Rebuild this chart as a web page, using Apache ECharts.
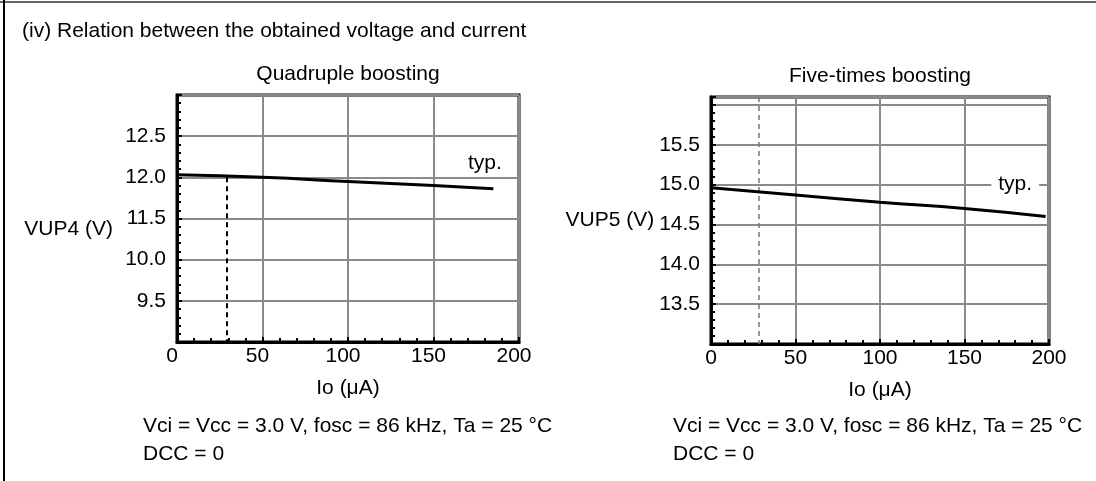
<!DOCTYPE html>
<html>
<head>
<meta charset="utf-8">
<script src="https://cdn.jsdelivr.net/npm/echarts@6/dist/echarts.min.js"></script>
<style>
html,body{margin:0;padding:0;background:#fff;}
#chart{width:1096px;height:481px;}
</style>
</head>
<body>
<div id="chart"></div>
<script>
// ---- data ----
const mainTitle = '(iv) Relation between the obtained voltage and current';
const chartTitles = ['Quadruple boosting', 'Five-times boosting'];
const xAxisName = 'Io (μA)';
const yAxisNames = ['VUP4 (V)', 'VUP5 (V)'];
const noteLines = ['Vci = Vcc = 3.0 V, fosc = 86 kHz, Ta = 25 °C', 'DCC = 0'];
const curveLabel = 'typ.';

// Quadruple boosting (left)
const io4 = [0, 50, 100, 150, 185];
const vup4 = [12.03, 12.0, 11.95, 11.90, 11.86];
const yTickValues4 = [10.5, 11.0, 11.5, 12.0, 12.5];
const yTickLabels4 = ['9.5', '10.0', '11.5', '12.0', '12.5'];
const dashIo4 = 29;

// Five-times boosting (right)
const io5 = [0, 50, 100, 150, 198];
const vup5 = [14.96, 14.87, 14.78, 14.70, 14.60];
const yTickValues5 = [13.5, 14.0, 14.5, 15.0, 15.5];
const yTickLabels5 = ['13.5', '14.0', '14.5', '15.0', '15.5'];
const dashIo5 = 28;

const xTicks = [0, 50, 100, 150, 200];

// ---- chart ----
const FONT = 'Liberation Sans, Arial, sans-serif';
const FS = 21;
const chart = echarts.init(document.getElementById('chart'), null, {renderer: 'canvas'});

function pairs(xs, ys) { return xs.map((x, i) => [x, ys[i]]); }
function mapLabel(vals, labels) {
  return function (v) {
    const i = vals.findIndex(t => Math.abs(t - v) < 1e-6);
    return i >= 0 ? labels[i] : '';
  };
}

function xAxisCfg(gridIndex, padRight) {
  return {
    type: 'value', gridIndex: gridIndex, min: xTicks[0], max: xTicks[xTicks.length - 1], interval: 50,
    name: xAxisName, nameLocation: 'middle', nameGap: 36,
    nameTextStyle: {fontFamily: FONT, fontSize: FS, color: '#000'},
    axisLine: {show: true, lineStyle: {color: '#000', width: 3}},
    axisTick: {show: true, inside: true, length: 5, lineStyle: {color: '#000', width: 2}},
    minorTick: {show: true, splitNumber: 5, length: 4, lineStyle: {color: '#000', width: 2}},
    axisLabel: {fontFamily: FONT, fontSize: FS, color: '#000', margin: 4, padding: [0, padRight, 0, 0]},
    splitLine: {show: true, lineStyle: {color: '#8a8a8a', width: 2}}
  };
}
function yAxisCfg(gridIndex, min, max, vals, labels, name, nameGap, nameVA) {
  return {
    type: 'value', gridIndex: gridIndex, min: min, max: max, interval: 0.5,
    name: name, nameLocation: 'middle', nameGap: nameGap, nameRotate: 0,
    nameTextStyle: {fontFamily: FONT, fontSize: FS, color: '#000', align: 'right', verticalAlign: nameVA},
    axisLine: {show: true, lineStyle: {color: '#000', width: 3}},
    axisTick: {show: true, inside: true, length: 5, lineStyle: {color: '#000', width: 2}},
    minorTick: {show: true, splitNumber: 5, length: 4, lineStyle: {color: '#000', width: 2}},
    axisLabel: {fontFamily: FONT, fontSize: FS, color: '#000', margin: 11, formatter: mapLabel(vals, labels)},
    splitLine: {show: true, lineStyle: {color: '#8a8a8a', width: 2}}
  };
}

const option = {
  backgroundColor: '#fff',
  animation: false,
  grid: [
    {left: 177, width: 342, top: 95, height: 247, show: true, borderColor: '#000', borderWidth: 3, backgroundColor: 'transparent'},
    {left: 711, width: 338, top: 97, height: 247, show: true, borderColor: '#000', borderWidth: 3, backgroundColor: 'transparent'}
  ],
  xAxis: [xAxisCfg(0, 10), xAxisCfg(1, 0)],
  yAxis: [
    yAxisCfg(0, 10.0, 13.0, yTickValues4, yTickLabels4, yAxisNames[0], 64, 'top'),
    yAxisCfg(1, 13.0, 16.1, yTickValues5, yTickLabels5, yAxisNames[1], 56, 'middle')
  ],
  series: [
    {
      type: 'line', xAxisIndex: 0, yAxisIndex: 0, data: pairs(io4, vup4),
      showSymbol: false, smooth: true, lineStyle: {color: '#000', width: 3}, z: 5,
      markLine: {
        silent: true, symbol: 'none', label: {show: false},
        lineStyle: {color: '#000', width: 2, type: [5, 4]},
        data: [[{coord: [dashIo4, 12.0]}, {coord: [dashIo4, 10.0]}]]
      },
      markPoint: {
        symbol: 'circle', symbolSize: 0,
        label: {show: true, formatter: curveLabel, fontFamily: FONT, fontSize: FS, color: '#000', position: 'inside'},
        data: [{coord: [180, 12.17]}]
      }
    },
    {
      type: 'line', xAxisIndex: 1, yAxisIndex: 1, data: pairs(io5, vup5),
      showSymbol: false, smooth: true, lineStyle: {color: '#000', width: 3}, z: 5,
      markLine: {
        silent: true, symbol: 'none', label: {show: false},
        lineStyle: {color: '#777', width: 1.5, type: [5, 4]},
        data: [[{coord: [dashIo5, 16.1]}, {coord: [dashIo5, 13.0]}]]
      },
      markPoint: {
        symbol: 'circle', symbolSize: 0,
        label: {show: true, formatter: curveLabel, fontFamily: FONT, fontSize: FS, color: '#000', position: 'inside',
                backgroundColor: '#fff', padding: [2, 7, 2, 7]},
        data: [{coord: [180, 15.0]}]
      }
    }
  ],
  graphic: [
    {type: 'line', shape: {x1: 0, y1: 2, x2: 1096, y2: 2}, style: {stroke: '#666', lineWidth: 2}, silent: true},
    {type: 'line', shape: {x1: 4, y1: 0, x2: 4, y2: 481}, style: {stroke: '#000', lineWidth: 2}, silent: true},
    {type: 'text', x: 22, y: 21, style: {text: mainTitle, font: FS + 'px ' + FONT, fill: '#000', textAlign: 'left', textVerticalAlign: 'top'}},
    {type: 'text', x: 348, y: 64, style: {text: chartTitles[0], font: FS + 'px ' + FONT, fill: '#000', textAlign: 'center', textVerticalAlign: 'top'}},
    {type: 'text', x: 880, y: 66, style: {text: chartTitles[1], font: FS + 'px ' + FONT, fill: '#000', textAlign: 'center', textVerticalAlign: 'top'}},
    {type: 'text', x: 143, y: 416, style: {text: noteLines[0], font: FS + 'px ' + FONT, fill: '#000', textAlign: 'left', textVerticalAlign: 'top'}},
    {type: 'text', x: 143, y: 444, style: {text: noteLines[1], font: FS + 'px ' + FONT, fill: '#000', textAlign: 'left', textVerticalAlign: 'top'}},
    {type: 'text', x: 673, y: 416, style: {text: noteLines[0], font: FS + 'px ' + FONT, fill: '#000', textAlign: 'left', textVerticalAlign: 'top'}},
    {type: 'text', x: 673, y: 444, style: {text: noteLines[1], font: FS + 'px ' + FONT, fill: '#000', textAlign: 'left', textVerticalAlign: 'top'}}
  ]
};
chart.setOption(option);
</script>
</body>
</html>
